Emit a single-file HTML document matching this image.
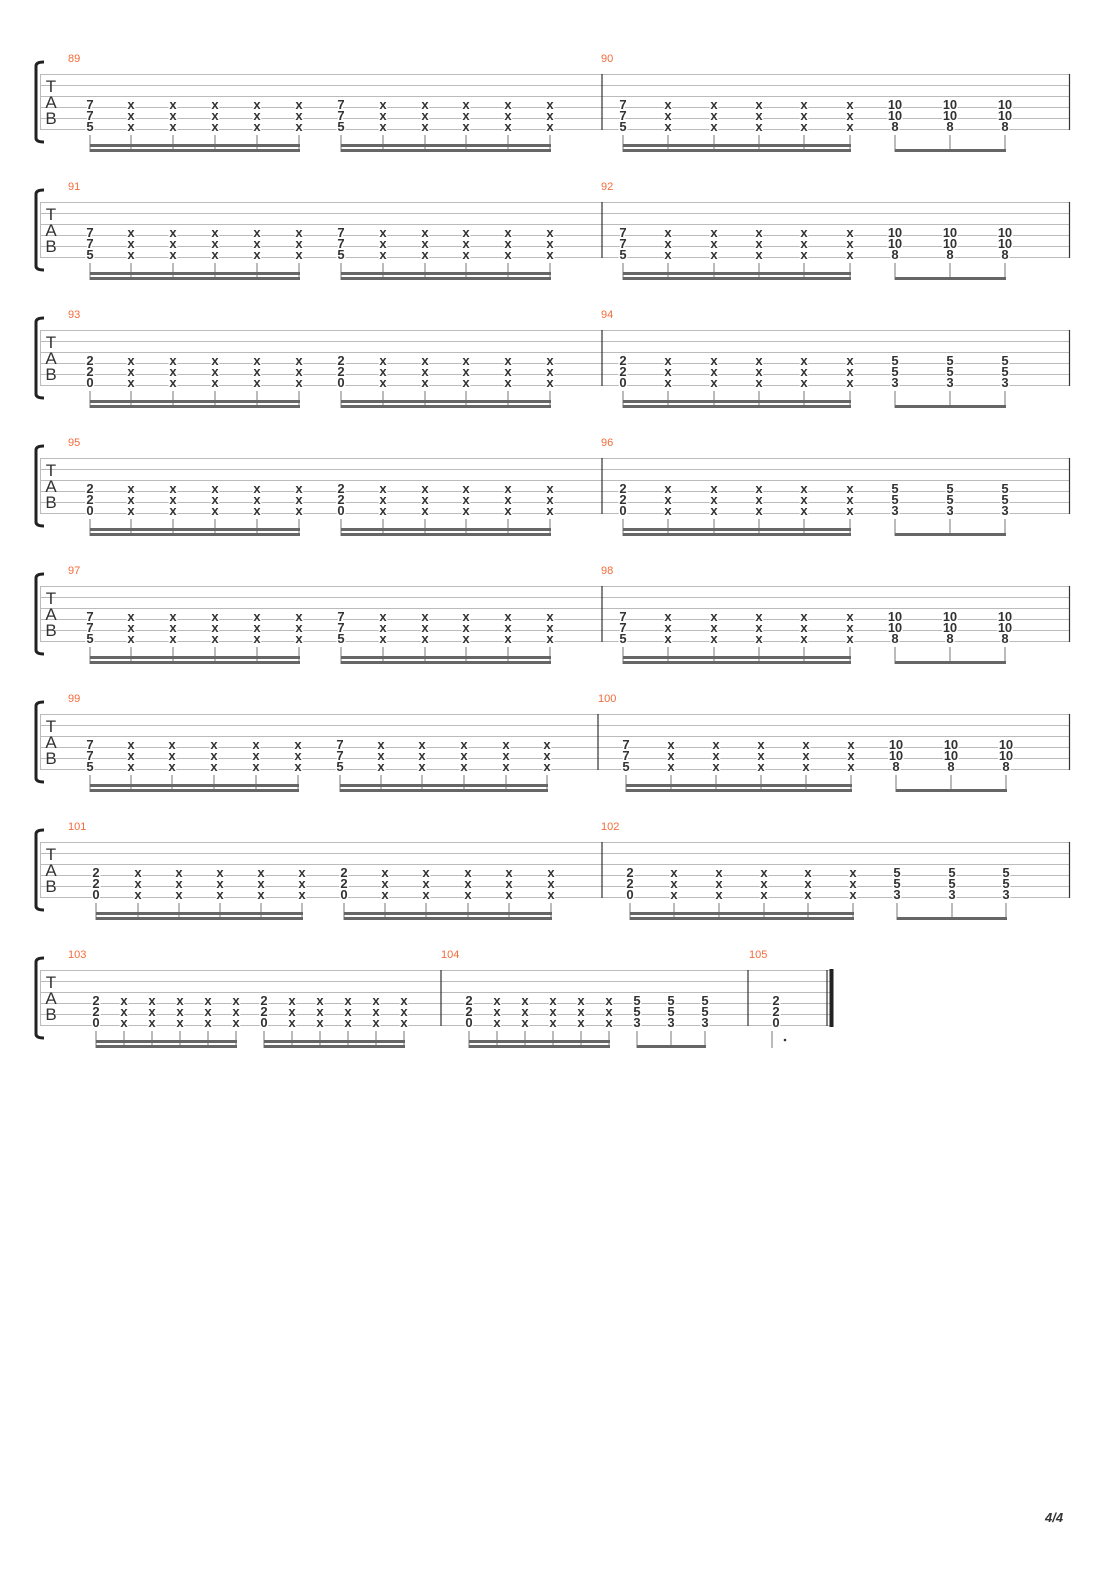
<!DOCTYPE html>
<html><head><meta charset="utf-8"><style>
html,body{margin:0;padding:0;background:#fff}
svg{display:block}
.n{font:bold 13px "Liberation Sans",sans-serif;fill:#333;text-anchor:middle;stroke:#fff;stroke-width:3;paint-order:stroke}
.m{font:11px "Liberation Sans",sans-serif;fill:#f26b3a}
.t{font:17px "Liberation Sans",sans-serif;fill:#333;text-anchor:middle}
.l{stroke:#bbb;stroke-width:1;fill:none}
.b{stroke:#333;stroke-width:1.2}
.s{stroke:#777;stroke-width:1;fill:none}
.bm{stroke:#666;stroke-width:3;fill:none}
.br{stroke:#222;stroke-width:3;fill:none}
</style></head><body>
<svg width="1110" height="1570" viewBox="0 0 1110 1570" xmlns="http://www.w3.org/2000/svg">

<!-- System 1 -->
<g transform="translate(0,0)">
<path class="l" d="M40 74.5H1070M40 85.5H1070M40 96.5H1070M40 107.5H1070M40 118.5H1070M40 129.5H1070M40.5 74V130"/>
<path class="b" d="M602 74V130M1069.5 74V130"/>
<path class="br" d="M44 62Q36 62 36 66V138Q36 142 44 142"/>
<text class="t" x="51" y="92">T</text><text class="t" x="51" y="108">A</text><text class="t" x="51" y="124">B</text>
<text class="m" x="68" y="62">89</text><text class="m" x="601" y="62">90</text>
<text class="n" x="90 131 173 215 257 299 341 383 425 466 508 550 623 668 714 759 804 850 891.5 898.5 946.5 953.5 1001.5 1008.5" y="109">7xxxxx7xxxxx7xxxxx101010</text>
<text class="n" x="90 131 173 215 257 299 341 383 425 466 508 550 623 668 714 759 804 850 891.5 898.5 946.5 953.5 1001.5 1008.5" y="120">7xxxxx7xxxxx7xxxxx101010</text>
<text class="n" x="90 131 173 215 257 299 341 383 425 466 508 550 623 668 714 759 804 850 895 950 1005" y="131">5xxxxx5xxxxx5xxxxx888</text>
<path class="s" d="M90 135V152M131 135V152M173 135V152M215 135V152M257 135V152M299 135V152M341 135V152M383 135V152M425 135V152M466 135V152M508 135V152M550 135V152M623 135V152M668 135V152M714 135V152M759 135V152M804 135V152M850 135V152M895 135V152M950 135V152M1005 135V152"/>
<path class="bm" d="M90 145.5H300M90 150.5H300M341 145.5H551M341 150.5H551M623 145.5H851M623 150.5H851M895 150.5H1006"/>
</g>

<!-- System 2 -->
<g transform="translate(0,128)">
<path class="l" d="M40 74.5H1070M40 85.5H1070M40 96.5H1070M40 107.5H1070M40 118.5H1070M40 129.5H1070M40.5 74V130"/>
<path class="b" d="M602 74V130M1069.5 74V130"/>
<path class="br" d="M44 62Q36 62 36 66V138Q36 142 44 142"/>
<text class="t" x="51" y="92">T</text><text class="t" x="51" y="108">A</text><text class="t" x="51" y="124">B</text>
<text class="m" x="68" y="62">91</text><text class="m" x="601" y="62">92</text>
<text class="n" x="90 131 173 215 257 299 341 383 425 466 508 550 623 668 714 759 804 850 891.5 898.5 946.5 953.5 1001.5 1008.5" y="109">7xxxxx7xxxxx7xxxxx101010</text>
<text class="n" x="90 131 173 215 257 299 341 383 425 466 508 550 623 668 714 759 804 850 891.5 898.5 946.5 953.5 1001.5 1008.5" y="120">7xxxxx7xxxxx7xxxxx101010</text>
<text class="n" x="90 131 173 215 257 299 341 383 425 466 508 550 623 668 714 759 804 850 895 950 1005" y="131">5xxxxx5xxxxx5xxxxx888</text>
<path class="s" d="M90 135V152M131 135V152M173 135V152M215 135V152M257 135V152M299 135V152M341 135V152M383 135V152M425 135V152M466 135V152M508 135V152M550 135V152M623 135V152M668 135V152M714 135V152M759 135V152M804 135V152M850 135V152M895 135V152M950 135V152M1005 135V152"/>
<path class="bm" d="M90 145.5H300M90 150.5H300M341 145.5H551M341 150.5H551M623 145.5H851M623 150.5H851M895 150.5H1006"/>
</g>

<!-- System 3 -->
<g transform="translate(0,256)">
<path class="l" d="M40 74.5H1070M40 85.5H1070M40 96.5H1070M40 107.5H1070M40 118.5H1070M40 129.5H1070M40.5 74V130"/>
<path class="b" d="M602 74V130M1069.5 74V130"/>
<path class="br" d="M44 62Q36 62 36 66V138Q36 142 44 142"/>
<text class="t" x="51" y="92">T</text><text class="t" x="51" y="108">A</text><text class="t" x="51" y="124">B</text>
<text class="m" x="68" y="62">93</text><text class="m" x="601" y="62">94</text>
<text class="n" x="90 131 173 215 257 299 341 383 425 466 508 550 623 668 714 759 804 850 895 950 1005" y="109">2xxxxx2xxxxx2xxxxx555</text>
<text class="n" x="90 131 173 215 257 299 341 383 425 466 508 550 623 668 714 759 804 850 895 950 1005" y="120">2xxxxx2xxxxx2xxxxx555</text>
<text class="n" x="90 131 173 215 257 299 341 383 425 466 508 550 623 668 714 759 804 850 895 950 1005" y="131">0xxxxx0xxxxx0xxxxx333</text>
<path class="s" d="M90 135V152M131 135V152M173 135V152M215 135V152M257 135V152M299 135V152M341 135V152M383 135V152M425 135V152M466 135V152M508 135V152M550 135V152M623 135V152M668 135V152M714 135V152M759 135V152M804 135V152M850 135V152M895 135V152M950 135V152M1005 135V152"/>
<path class="bm" d="M90 145.5H300M90 150.5H300M341 145.5H551M341 150.5H551M623 145.5H851M623 150.5H851M895 150.5H1006"/>
</g>

<!-- System 4 -->
<g transform="translate(0,384)">
<path class="l" d="M40 74.5H1070M40 85.5H1070M40 96.5H1070M40 107.5H1070M40 118.5H1070M40 129.5H1070M40.5 74V130"/>
<path class="b" d="M602 74V130M1069.5 74V130"/>
<path class="br" d="M44 62Q36 62 36 66V138Q36 142 44 142"/>
<text class="t" x="51" y="92">T</text><text class="t" x="51" y="108">A</text><text class="t" x="51" y="124">B</text>
<text class="m" x="68" y="62">95</text><text class="m" x="601" y="62">96</text>
<text class="n" x="90 131 173 215 257 299 341 383 425 466 508 550 623 668 714 759 804 850 895 950 1005" y="109">2xxxxx2xxxxx2xxxxx555</text>
<text class="n" x="90 131 173 215 257 299 341 383 425 466 508 550 623 668 714 759 804 850 895 950 1005" y="120">2xxxxx2xxxxx2xxxxx555</text>
<text class="n" x="90 131 173 215 257 299 341 383 425 466 508 550 623 668 714 759 804 850 895 950 1005" y="131">0xxxxx0xxxxx0xxxxx333</text>
<path class="s" d="M90 135V152M131 135V152M173 135V152M215 135V152M257 135V152M299 135V152M341 135V152M383 135V152M425 135V152M466 135V152M508 135V152M550 135V152M623 135V152M668 135V152M714 135V152M759 135V152M804 135V152M850 135V152M895 135V152M950 135V152M1005 135V152"/>
<path class="bm" d="M90 145.5H300M90 150.5H300M341 145.5H551M341 150.5H551M623 145.5H851M623 150.5H851M895 150.5H1006"/>
</g>

<!-- System 5 -->
<g transform="translate(0,512)">
<path class="l" d="M40 74.5H1070M40 85.5H1070M40 96.5H1070M40 107.5H1070M40 118.5H1070M40 129.5H1070M40.5 74V130"/>
<path class="b" d="M602 74V130M1069.5 74V130"/>
<path class="br" d="M44 62Q36 62 36 66V138Q36 142 44 142"/>
<text class="t" x="51" y="92">T</text><text class="t" x="51" y="108">A</text><text class="t" x="51" y="124">B</text>
<text class="m" x="68" y="62">97</text><text class="m" x="601" y="62">98</text>
<text class="n" x="90 131 173 215 257 299 341 383 425 466 508 550 623 668 714 759 804 850 891.5 898.5 946.5 953.5 1001.5 1008.5" y="109">7xxxxx7xxxxx7xxxxx101010</text>
<text class="n" x="90 131 173 215 257 299 341 383 425 466 508 550 623 668 714 759 804 850 891.5 898.5 946.5 953.5 1001.5 1008.5" y="120">7xxxxx7xxxxx7xxxxx101010</text>
<text class="n" x="90 131 173 215 257 299 341 383 425 466 508 550 623 668 714 759 804 850 895 950 1005" y="131">5xxxxx5xxxxx5xxxxx888</text>
<path class="s" d="M90 135V152M131 135V152M173 135V152M215 135V152M257 135V152M299 135V152M341 135V152M383 135V152M425 135V152M466 135V152M508 135V152M550 135V152M623 135V152M668 135V152M714 135V152M759 135V152M804 135V152M850 135V152M895 135V152M950 135V152M1005 135V152"/>
<path class="bm" d="M90 145.5H300M90 150.5H300M341 145.5H551M341 150.5H551M623 145.5H851M623 150.5H851M895 150.5H1006"/>
</g>

<!-- System 6 -->
<g transform="translate(0,640)">
<path class="l" d="M40 74.5H1070M40 85.5H1070M40 96.5H1070M40 107.5H1070M40 118.5H1070M40 129.5H1070M40.5 74V130"/>
<path class="b" d="M598 74V130M1069.5 74V130"/>
<path class="br" d="M44 62Q36 62 36 66V138Q36 142 44 142"/>
<text class="t" x="51" y="92">T</text><text class="t" x="51" y="108">A</text><text class="t" x="51" y="124">B</text>
<text class="m" x="68" y="62">99</text><text class="m" x="598" y="62">100</text>
<text class="n" x="90 131 172 214 256 298 340 381 422 464 506 547 626 671 716 761 806 851 892.5 899.5 947.5 954.5 1002.5 1009.5" y="109">7xxxxx7xxxxx7xxxxx101010</text>
<text class="n" x="90 131 172 214 256 298 340 381 422 464 506 547 626 671 716 761 806 851 892.5 899.5 947.5 954.5 1002.5 1009.5" y="120">7xxxxx7xxxxx7xxxxx101010</text>
<text class="n" x="90 131 172 214 256 298 340 381 422 464 506 547 626 671 716 761 806 851 896 951 1006" y="131">5xxxxx5xxxxx5xxxxx888</text>
<path class="s" d="M90 135V152M131 135V152M172 135V152M214 135V152M256 135V152M298 135V152M340 135V152M381 135V152M422 135V152M464 135V152M506 135V152M547 135V152M626 135V152M671 135V152M716 135V152M761 135V152M806 135V152M851 135V152M896 135V152M951 135V152M1006 135V152"/>
<path class="bm" d="M90 145.5H299M90 150.5H299M340 145.5H548M340 150.5H548M626 145.5H852M626 150.5H852M896 150.5H1007"/>
</g>

<!-- System 7 -->
<g transform="translate(0,768)">
<path class="l" d="M40 74.5H1070M40 85.5H1070M40 96.5H1070M40 107.5H1070M40 118.5H1070M40 129.5H1070M40.5 74V130"/>
<path class="b" d="M602 74V130M1069.5 74V130"/>
<path class="br" d="M44 62Q36 62 36 66V138Q36 142 44 142"/>
<text class="t" x="51" y="92">T</text><text class="t" x="51" y="108">A</text><text class="t" x="51" y="124">B</text>
<text class="m" x="68" y="62">101</text><text class="m" x="601" y="62">102</text>
<text class="n" x="96 138 179 220 261 302 344 385 426 468 509 551 630 674 719 764 808 853 897 952 1006" y="109">2xxxxx2xxxxx2xxxxx555</text>
<text class="n" x="96 138 179 220 261 302 344 385 426 468 509 551 630 674 719 764 808 853 897 952 1006" y="120">2xxxxx2xxxxx2xxxxx555</text>
<text class="n" x="96 138 179 220 261 302 344 385 426 468 509 551 630 674 719 764 808 853 897 952 1006" y="131">0xxxxx0xxxxx0xxxxx333</text>
<path class="s" d="M96 135V152M138 135V152M179 135V152M220 135V152M261 135V152M302 135V152M344 135V152M385 135V152M426 135V152M468 135V152M509 135V152M551 135V152M630 135V152M674 135V152M719 135V152M764 135V152M808 135V152M853 135V152M897 135V152M952 135V152M1006 135V152"/>
<path class="bm" d="M96 145.5H303M96 150.5H303M344 145.5H552M344 150.5H552M630 145.5H854M630 150.5H854M897 150.5H1007"/>
</g>

<!-- System 8 -->
<g transform="translate(0,896)">
<path class="l" d="M40 74.5H833M40 85.5H833M40 96.5H833M40 107.5H833M40 118.5H833M40 129.5H833M40.5 74V130"/>
<path class="b" d="M441 74V130M748 74V130M827 74V130"/>
<path d="M831.5 73V131" stroke="#222" stroke-width="4"/>
<path class="br" d="M44 62Q36 62 36 66V138Q36 142 44 142"/>
<text class="t" x="51" y="92">T</text><text class="t" x="51" y="108">A</text><text class="t" x="51" y="124">B</text>
<text class="m" x="68" y="62">103</text><text class="m" x="441" y="62">104</text><text class="m" x="749" y="62">105</text>
<text class="n" x="96 124 152 180 208 236 264 292 320 348 376 404 469 497 525 553 581 609 637 671 705 776" y="109">2xxxxx2xxxxx2xxxxx5552</text>
<text class="n" x="96 124 152 180 208 236 264 292 320 348 376 404 469 497 525 553 581 609 637 671 705 776" y="120">2xxxxx2xxxxx2xxxxx5552</text>
<text class="n" x="96 124 152 180 208 236 264 292 320 348 376 404 469 497 525 553 581 609 637 671 705 776" y="131">0xxxxx0xxxxx0xxxxx3330</text>
<path class="s" d="M96 135V152M124 135V152M152 135V152M180 135V152M208 135V152M236 135V152M264 135V152M292 135V152M320 135V152M348 135V152M376 135V152M404 135V152M469 135V152M497 135V152M525 135V152M553 135V152M581 135V152M609 135V152M637 135V152M671 135V152M705 135V152M772 135V152"/>
<path class="bm" d="M96 145.5H237M96 150.5H237M264 145.5H405M264 150.5H405M469 145.5H610M469 150.5H610M637 150.5H706"/>
<circle cx="785" cy="144" r="1.3" fill="#333"/>
</g>

<text x="1045" y="1522" style="font:italic bold 13px 'Liberation Sans',sans-serif;fill:#333">4/4</text>
</svg>
</body></html>
